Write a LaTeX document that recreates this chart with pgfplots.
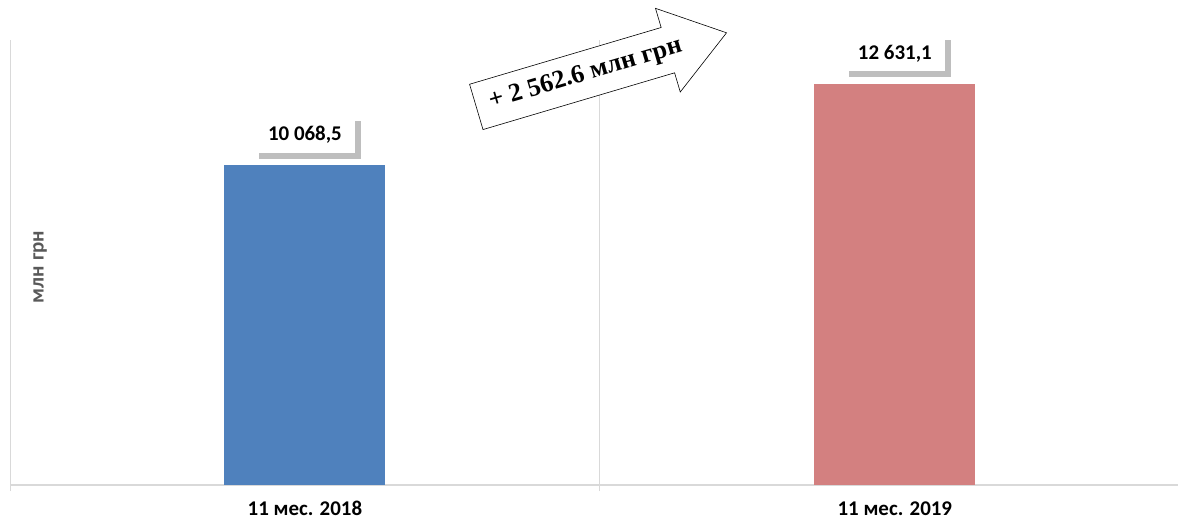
\documentclass[border=0pt]{standalone}
\usepackage{fontspec}
\setmainfont{Carlito}
\newfontfamily\timesfont{Liberation Serif}
\usepackage{pgfplots}
\pgfplotsset{compat=1.18}
\usetikzlibrary{shapes.arrows}
\definecolor{bluebar}{RGB}{79,129,189}
\definecolor{redbar}{RGB}{211,128,128}
\definecolor{gridgray}{RGB}{217,217,217}
\definecolor{labgray}{RGB}{89,89,89}
\definecolor{shadowgray}{RGB}{190,190,190}
\tikzset{
  lbl/.style={font=\fontsize{21}{23}\selectfont\bfseries,
    minimum width=101bp, minimum height=36bp, inner sep=0pt,
    anchor=south, fill=white, text=black, yshift=12bp,
    append after command={\pgfextra{%
      \fill[shadowgray] ([xshift=5bp]\tikzlastnode.south west) rectangle ([xshift=5bp,yshift=-5bp]\tikzlastnode.south east);
      \fill[shadowgray] (\tikzlastnode.south east) rectangle ([xshift=5bp,yshift=-5bp]\tikzlastnode.north east);
    }}},
}
\begin{document}
\begin{tikzpicture}
\begin{axis}[
  scale only axis, width=1168bp, height=445bp,
  xmin=-0.5, xmax=1.48, ymin=0, ymax=14000,
  axis x line*=bottom, axis y line=none,
  ytick=\empty,
  xtick={0,1}, xticklabels={11 мес. 2018, 11 мес. 2019},
  major tick length=0pt,
  minor xtick={-0.5,0.5,1.5}, xminorgrids,
  minor grid style={gridgray, line width=1bp},
  minor tick length=6bp, tick align=outside,
  every tick/.style={gridgray, line width=1bp},
  x axis line style={gridgray, line width=1.2bp},
  xticklabel style={font=\fontsize{21}{23}\selectfont\bfseries, anchor=base, yshift=-30bp},
  bar width=161bp,
]
\addplot[ybar, fill=bluebar, draw=none, bar shift=0pt] coordinates {(0,10068.5)};
\addplot[ybar, fill=redbar, draw=none, bar shift=0pt] coordinates {(1,12631.1)};
% data labels
\addplot[only marks, mark=none, forget plot, nodes near coords, point meta=explicit symbolic,
  every node near coord/.style={lbl}]
  coordinates {(0,10068.5) [10 068,5] (1,12631.1) [12 631,1]};
\node[rotate=90, font=\fontsize{21}{23}\selectfont\bfseries, text=labgray] at (rel axis cs:0.0257,0.49) {млн грн};
\end{axis}
\node[single arrow, draw=black, line width=0.6bp, fill=white, rotate=16.5, anchor=tail,
  minimum height=261bp, single arrow head extend=20bp,
  single arrow tip angle=71, inner xsep=4bp, inner ysep=12bp,
  font=\timesfont\bfseries\fontsize{26}{28}\selectfont] at (466bp,378bp) {+ 2 562.6 млн грн};
\pgfresetboundingbox
\path (-10bp,-34bp) rectangle (1168bp,485bp);
\end{tikzpicture}
\end{document}
